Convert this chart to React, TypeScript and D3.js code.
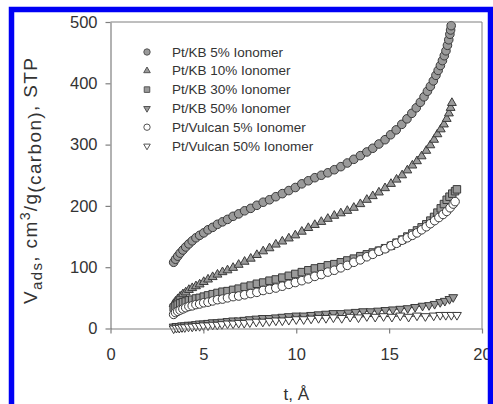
import React, { useEffect, useRef } from "react";
import * as d3 from "d3";

// t (Å), V_ads (cm3/g) pairs
const kb5: [number, number][] = [
  [3.4, 108], [3.5, 113], [3.62, 118], [3.75, 123], [3.9, 128], [4.05, 133], [4.22, 138],
  [4.4, 143], [4.6, 148], [4.8, 152], [5.02, 156], [5.25, 161], [5.5, 165], [5.76, 170],
  [6.03, 174], [6.3, 178], [6.6, 183], [6.9, 187], [7.22, 192], [7.55, 196], [7.88, 201],
  [8.22, 206], [8.56, 210], [8.9, 215], [9.25, 220], [9.6, 225], [9.95, 230], [10.3, 236],
  [10.65, 241], [11.0, 246], [11.35, 250], [11.7, 254], [12.05, 259], [12.4, 264],
  [12.75, 270], [13.1, 276], [13.45, 282], [13.8, 288], [14.12, 294], [14.45, 301],
  [14.78, 308], [15.08, 316], [15.38, 324], [15.68, 333], [15.96, 342], [16.22, 351],
  [16.46, 360], [16.68, 369], [16.88, 378], [17.06, 387], [17.22, 395], [17.38, 404],
  [17.52, 413], [17.64, 421], [17.76, 429], [17.87, 437], [17.97, 445], [18.06, 453],
  [18.14, 462], [18.21, 471], [18.27, 480], [18.31, 487], [18.34, 494],
];

const kb10: [number, number][] = [
  [3.4, 40], [3.5, 44], [3.62, 48], [3.75, 52], [3.9, 56], [4.05, 59], [4.22, 63], [4.4, 66],
  [4.6, 69], [4.8, 72], [5.02, 76], [5.25, 80], [5.5, 84], [5.76, 88], [6.03, 92], [6.3, 95],
  [6.6, 99], [6.9, 104], [7.22, 109], [7.55, 114], [7.88, 120], [8.22, 126], [8.56, 131],
  [8.9, 137], [9.25, 142], [9.6, 147], [9.95, 152], [10.3, 158], [10.65, 164], [11.0, 169],
  [11.35, 174], [11.7, 179], [12.05, 184], [12.4, 188], [12.75, 192], [13.1, 197],
  [13.45, 203], [13.8, 210], [14.12, 216], [14.45, 222], [14.78, 229], [15.1, 236],
  [15.4, 243], [15.7, 250], [15.98, 258], [16.25, 266], [16.5, 273], [16.75, 281],
  [17.0, 290], [17.22, 299], [17.42, 308], [17.6, 317], [17.78, 325], [17.95, 333],
  [18.1, 342], [18.22, 351], [18.31, 360], [18.38, 368],
];

const kb30: [number, number][] = [
  [3.4, 34], [3.5, 37], [3.62, 39], [3.75, 41], [3.9, 43], [4.05, 44], [4.22, 46], [4.4, 47],
  [4.6, 49], [4.8, 50], [5.02, 52], [5.25, 54], [5.5, 56], [5.76, 58], [6.03, 60], [6.3, 61],
  [6.6, 63], [6.9, 65], [7.22, 68], [7.55, 70], [7.88, 73], [8.22, 75], [8.56, 78], [8.9, 80],
  [9.25, 83], [9.6, 86], [9.95, 89], [10.3, 92], [10.65, 95], [11.0, 98], [11.35, 100],
  [11.7, 103], [12.05, 105], [12.4, 108], [12.75, 111], [13.1, 114], [13.45, 118],
  [13.8, 121], [14.12, 124], [14.45, 127], [14.78, 131], [15.1, 135], [15.4, 140],
  [15.7, 145], [15.98, 150], [16.25, 155], [16.5, 160], [16.75, 165], [17.0, 170],
  [17.22, 176], [17.42, 182], [17.6, 189], [17.78, 196], [17.95, 203], [18.1, 210],
  [18.25, 215], [18.4, 220], [18.55, 224], [18.65, 227],
];

const kb50: [number, number][] = [
  [3.4, 3], [3.55, 4], [3.7, 4], [3.85, 5], [4.0, 5], [4.2, 6], [4.4, 6], [4.6, 7], [4.8, 8],
  [5.0, 8], [5.25, 9], [5.5, 10], [5.75, 10], [6.0, 11], [6.3, 12], [6.6, 13], [6.9, 13],
  [7.2, 14], [7.5, 15], [7.85, 16], [8.2, 17], [8.55, 17], [8.9, 18], [9.25, 19], [9.6, 20],
  [10.0, 21], [10.4, 21], [10.8, 22], [11.2, 23], [11.6, 24], [12.0, 25], [12.4, 25],
  [12.8, 26], [13.2, 27], [13.6, 28], [14.0, 28], [14.4, 29], [14.8, 30], [15.2, 31],
  [15.6, 32], [16.0, 33], [16.4, 35], [16.8, 37], [17.15, 38], [17.45, 40], [17.75, 43],
  [18.0, 45], [18.25, 48], [18.45, 51],
];

const vulcan5: [number, number][] = [
  [3.4, 23], [3.5, 26], [3.62, 28], [3.75, 30], [3.9, 32], [4.05, 34], [4.22, 36], [4.4, 37],
  [4.6, 39], [4.8, 40], [5.02, 42], [5.25, 43], [5.5, 45], [5.76, 47], [6.03, 48], [6.3, 50],
  [6.6, 52], [6.9, 53], [7.22, 55], [7.55, 57], [7.88, 59], [8.22, 62], [8.56, 64],
  [8.9, 66], [9.25, 69], [9.6, 72], [9.95, 75], [10.3, 78], [10.65, 81], [11.0, 85],
  [11.35, 88], [11.7, 92], [12.05, 95], [12.4, 99], [12.75, 103], [13.1, 108], [13.45, 112],
  [13.8, 117], [14.12, 121], [14.45, 126], [14.78, 130], [15.1, 135], [15.4, 139],
  [15.7, 144], [15.98, 148], [16.25, 152], [16.5, 156], [16.75, 161], [17.0, 166],
  [17.22, 171], [17.45, 176], [17.68, 181], [17.9, 186], [18.1, 191], [18.28, 197],
  [18.45, 203], [18.55, 207],
];

const vulcan50: [number, number][] = [
  [3.4, 0], [3.55, 1], [3.7, 1], [3.85, 2], [4.0, 2], [4.2, 3], [4.4, 3], [4.6, 4], [4.8, 4],
  [5.0, 5], [5.25, 5], [5.5, 6], [5.75, 6], [6.0, 7], [6.3, 8], [6.6, 8], [6.9, 9], [7.2, 9],
  [7.5, 10], [7.85, 11], [8.2, 11], [8.55, 12], [8.9, 13], [9.25, 13], [9.6, 14], [10.0, 15],
  [10.4, 15], [10.8, 16], [11.2, 17], [11.6, 17], [12.0, 18], [12.45, 17], [12.9, 19],
  [13.35, 18], [13.8, 20], [14.25, 19], [14.7, 20], [15.15, 19], [15.6, 21], [16.05, 19],
  [16.5, 21], [16.95, 20], [17.4, 21], [17.75, 22], [18.05, 22], [18.35, 22], [18.65, 22],
];

const seriesNames = [
  "Pt/KB 5% Ionomer",
  "Pt/KB 10% Ionomer",
  "Pt/KB 30% Ionomer",
  "Pt/KB 50% Ionomer",
  "Pt/Vulcan 5% Ionomer",
  "Pt/Vulcan 50% Ionomer",
];
const seriesData = [kb5, kb10, kb30, kb50, vulcan5, vulcan50];
const xTicks = [0, 5, 10, 15, 20];
const yTicks = [0, 100, 200, 300, 400, 500];

type Marker = { shape: d3.SymbolType; size: number; fill: string; rotate: number };
const markers: Marker[] = [
  { shape: d3.symbolCircle, size: 58, fill: "#9a9a9a", rotate: 0 },
  { shape: d3.symbolTriangle, size: 34, fill: "#9a9a9a", rotate: 0 },
  { shape: d3.symbolSquare, size: 56, fill: "#9a9a9a", rotate: 0 },
  { shape: d3.symbolTriangle, size: 34, fill: "#9a9a9a", rotate: 180 },
  { shape: d3.symbolCircle, size: 58, fill: "#ffffff", rotate: 0 },
  { shape: d3.symbolTriangle, size: 34, fill: "#ffffff", rotate: 180 },
];
const withLine = [false, false, false, true, false, true];

const font = "'Liberation Sans', Arial, sans-serif";

export default function App() {
  const svgRef = useRef<SVGSVGElement>(null);

  useEffect(() => {
    if (!svgRef.current) return;
    const svg = d3.select(svgRef.current);
    svg.selectAll("*").remove();

    const x = d3.scaleLinear().domain([0, 20]).range([110.5, 482]);
    const y = d3.scaleLinear().domain([0, 500]).range([328.5, 22]);

    svg.append("rect").attr("width", 493).attr("height", 404).attr("fill", "#fff");

    const frame = "#7f7f7f";

    // data first so the frame sits over it
    const plot = svg.append("g");
    seriesData.forEach((data, i) => {
      const m = markers[i];
      if (withLine[i]) {
        plot
          .append("path")
          .datum(data)
          .attr("fill", "none")
          .attr("stroke", "#333")
          .attr("stroke-width", 1)
          .attr(
            "d",
            d3
              .line<[number, number]>()
              .x((d) => x(d[0]))
              .y((d) => y(d[1])),
          );
      }
      plot
        .append("g")
        .selectAll("path")
        .data(data)
        .enter()
        .append("path")
        .attr("d", d3.symbol().type(m.shape).size(m.size)())
        .attr(
          "transform",
          (d) => `translate(${x(d[0])},${y(d[1])}) rotate(${m.rotate})`,
        )
        .attr("fill", m.fill)
        .attr("stroke", "#3a3a3a")
        .attr("stroke-width", 1);
    });

    // frame
    svg
      .append("line")
      .attr("x1", x(0)).attr("x2", x(20))
      .attr("y1", y(500)).attr("y2", y(500))
      .attr("stroke", frame);
    svg
      .append("line")
      .attr("x1", x(20)).attr("x2", x(20))
      .attr("y1", y(0)).attr("y2", y(500))
      .attr("stroke", frame);

    const xAxis = svg
      .append("g")
      .attr("transform", `translate(0,${y(0)})`)
      .call(d3.axisBottom(x).tickValues(xTicks).tickSize(5).tickSizeOuter(0).tickPadding(15));
    const yAxis = svg
      .append("g")
      .attr("transform", `translate(${x(0)},0)`)
      .call(d3.axisLeft(y).tickValues(yTicks).tickSize(5).tickSizeOuter(0).tickPadding(8));

    [xAxis, yAxis].forEach((a) => {
      a.selectAll(".domain, .tick line").attr("stroke", frame).attr("stroke-width", 1.2);
      a.selectAll("text")
        .attr("fill", "#333")
        .style("font-family", font)
        .style("font-size", "16.5px");
    });

    // legend
    const legend = svg.append("g");
    seriesNames.forEach((name, i) => {
      const m = markers[i];
      const cy = 52 + i * 18.8;
      legend
        .append("path")
        .attr("d", d3.symbol().type(m.shape).size(m.size * 0.55)())
        .attr("transform", `translate(147,${cy}) rotate(${m.rotate})`)
        .attr("fill", m.fill)
        .attr("stroke", "#555")
        .attr("stroke-width", 1);
      legend
        .append("text")
        .attr("x", 172)
        .attr("y", cy)
        .attr("dominant-baseline", "central")
        .attr("fill", "#333")
        .style("font-family", font)
        .style("font-size", "13.5px")
        .text(name);
    });

    // axis titles
    svg
      .append("text")
      .attr("x", (x(0) + x(20)) / 2)
      .attr("y", 400)
      .attr("text-anchor", "middle")
      .attr("fill", "#333")
      .style("font-family", font)
      .style("font-size", "17px")
      .text("t, Å");

    const yt = svg
      .append("text")
      .attr("transform", "translate(37,181) rotate(-90)")
      .attr("text-anchor", "middle")
      .attr("textLength", 246)
      .attr("lengthAdjust", "spacing")
      .attr("fill", "#333")
      .style("font-family", font)
      .style("font-size", "19px");
    yt.append("tspan").text("V");
    yt.append("tspan").attr("dy", 5).style("font-size", "15px").text("ads");
    yt.append("tspan").attr("dy", -5).text(", cm");
    yt.append("tspan").attr("dy", -7).style("font-size", "14px").text("3");
    yt.append("tspan").attr("dy", 7).text("/g");
    yt.append("tspan").attr("dy", 4).text("(carbon)");
    yt.append("tspan").attr("dy", -4).text(", STP");

    // blue frame of the figure
    svg
      .append("rect")
      .attr("x", 11.5)
      .attr("y", 9.5)
      .attr("width", 479)
      .attr("height", 420)
      .attr("fill", "none")
      .attr("stroke", "#0000f5")
      .attr("stroke-width", 5.5);
  }, []);

  return (
    <svg
      ref={svgRef}
      width={493}
      height={404}
      style={{ position: "absolute", left: 0, top: 0 }}
    />
  );
}
